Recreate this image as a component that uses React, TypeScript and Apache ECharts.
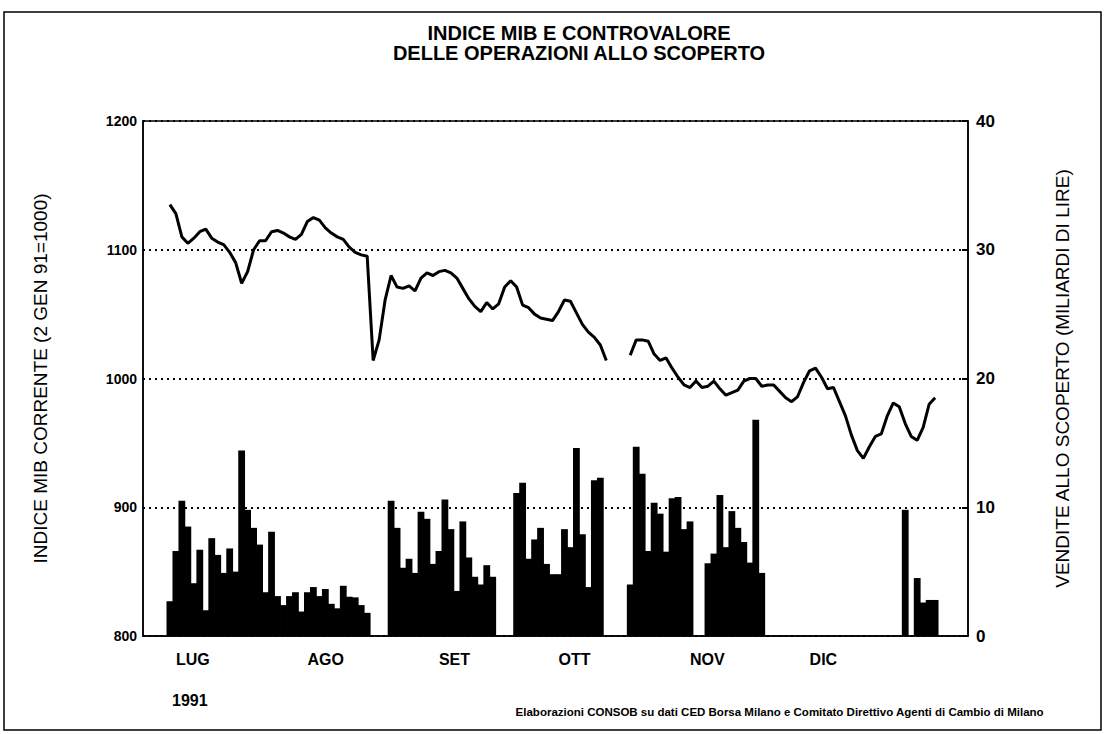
import React, { useEffect, useRef } from "react";
import * as echarts from "echarts";

// Trading-day slots (0..137); month labels placed at the first trading day of each month
const SLOT_COUNT = 138;
const months = ["LUG", "AGO", "SET", "OTT", "NOV", "DIC"];
const monthStartSlot = [5, 27, 49, 69, 91, 111];

// Indice MIB corrente (2 gen 91 = 1000), by slot; null = no data
const mibIndex: (number | null)[] = [
  null, null, null, null,
  1135, 1128, 1110, 1105, 1109, 1114, 1116, 1109, 1106, 1104,
  1098, 1090, 1074, 1083, 1100, 1107, 1107, 1114, 1115, 1113,
  1110, 1108, 1112, 1122, 1125, 1123, 1117, 1113, 1110, 1108,
  1102, 1098, 1096, 1095, 1014, 1030, 1061, 1080, 1071, 1070,
  1072, 1068, 1078, 1082, 1080, 1083, 1084, 1082, 1078, 1070,
  1062, 1056, 1052, 1059, 1054, 1058, 1071, 1076, 1071, 1057,
  1055, 1050, 1047, 1046, 1045, 1052, 1061, 1060, 1051, 1042,
  1036, 1032, 1026, 1014,
  null, null, null,
  1018, 1030, 1030, 1029, 1019, 1014, 1016, 1008, 1001, 995,
  993, 998, 993, 994, 998, 992, 987, 989, 991, 998,
  1000, 1000, 994, 995, 995, 990, 985, 982, 986, 997,
  1006, 1008, 1001, 992, 993, 982, 971, 956, 944, 938,
  947, 955, 957, 971, 981, 978, 965, 955, 952, 962,
  980, 985,
  null, null, null, null, null,
];

// Vendite allo scoperto (miliardi di lire), by slot; null = no data
const shortSales: (number | null)[] = [
  null, null, null, null,
  2.7, 6.6, 10.5, 8.5, 4.1, 6.7, 2.0, 7.6, 6.3, 4.9,
  6.8, 5.0, 14.4, 9.8, 8.4, 7.1, 3.4, 8.1, 3.1, 2.4,
  3.1, 3.4, 1.9, 3.4, 3.8, 3.1, 3.65, 2.5, 2.15, 3.9,
  3.05, 3.0, 2.4, 1.8,
  null, null, null,
  10.5, 8.4, 5.3, 6.0, 4.9, 9.65, 9.1, 5.6, 6.6, 10.6,
  8.3, 3.5, 8.9, 6.1, 4.6, 4.0, 5.5, 4.6,
  null, null, null,
  11.1, 11.9, 6.0, 7.5, 8.4, 5.6, 4.8, 4.8, 8.3, 6.9,
  14.6, 7.9, 3.8, 12.1, 12.3,
  null, null, null, null,
  4.0, 14.7, 12.6, 6.6, 10.35, 9.5, 6.55, 10.7, 10.8, 8.3,
  8.9,
  null, null,
  5.65, 6.4, 10.95, 6.9, 9.7, 8.4, 7.3, 5.7, 16.8, 4.9,
  null, null, null, null, null, null, null, null, null, null,
  null, null, null, null, null, null, null, null, null, null,
  null, null, null,
  9.8, null, 4.5, 2.6, 2.8, 2.8,
  null, null, null, null, null,
];

const leftTicks = [800, 1200, 100];
const rightTicks = [0, 40, 10];

const titleLines = ["INDICE MIB E CONTROVALORE", "DELLE OPERAZIONI ALLO SCOPERTO"];
const leftAxisName = "INDICE MIB CORRENTE (2 GEN 91=1000)";
const rightAxisName = "VENDITE ALLO SCOPERTO (MILIARDI DI LIRE)";
const yearLabel = "1991";
const sourceNote =
  "Elaborazioni CONSOB su dati CED Borsa Milano e Comitato Direttivo Agenti di Cambio di Milano";

const FONT = "'Liberation Sans', Arial, sans-serif";

export default function App() {
  const ref = useRef<HTMLDivElement>(null);

  useEffect(() => {
    if (!ref.current) return;
    const chart = echarts.init(ref.current, null, { renderer: "svg" });
    const slots = Array.from({ length: SLOT_COUNT }, (_, i) => "g" + i);

    chart.setOption({
      animation: false,
      backgroundColor: "#ffffff",
      title: {
        text: titleLines.join("\n"),
        top: 18,
        left: 574,
        textAlign: "center",
        textStyle: {
          fontFamily: FONT,
          fontWeight: "bold",
          fontSize: 20,
          lineHeight: 20,
          color: "#000",
        },
      },
      grid: {
        left: 143,
        right: 138,
        top: 121,
        bottom: 98,
        show: true,
        borderColor: "#000",
        borderWidth: 1.5,
        backgroundColor: "transparent",
      },
      xAxis: {
        type: "category",
        data: slots,
        boundaryGap: true,
        axisLine: { show: true, lineStyle: { color: "#000", width: 1.5 } },
        axisTick: { show: false },
        axisLabel: {
          interval: 0,
          align: "left",
          margin: 15,
          fontFamily: FONT,
          fontWeight: "bold",
          fontSize: 16,
          color: "#000",
          formatter: (_v: string, idx: number) => {
            const m = monthStartSlot.indexOf(idx);
            return m >= 0 ? months[m] : "";
          },
        },
        splitLine: { show: false },
      },
      yAxis: [
        {
          type: "value",
          min: leftTicks[0],
          max: leftTicks[1],
          interval: leftTicks[2],
          position: "left",
          name: leftAxisName,
          nameLocation: "middle",
          nameRotate: 90,
          nameGap: 93,
          nameTextStyle: { fontFamily: FONT, fontSize: 19, color: "#000" },
          axisLine: { show: true, lineStyle: { color: "#000", width: 1.5 } },
          axisTick: { show: false },
          axisLabel: {
            margin: 6,
            fontFamily: FONT,
            fontWeight: "bold",
            fontSize: 14,
            color: "#000",
            formatter: (v: number) => String(v),
          },
          splitLine: {
            show: true,
            lineStyle: { color: "#000", type: [2, 4], width: 2 },
          },
        },
        {
          type: "value",
          min: rightTicks[0],
          max: rightTicks[1],
          interval: rightTicks[2],
          position: "right",
          name: rightAxisName,
          nameLocation: "middle",
          nameRotate: 90,
          nameGap: 85,
          nameTextStyle: { fontFamily: FONT, fontSize: 19, color: "#000" },
          axisLine: { show: true, lineStyle: { color: "#000", width: 1.5 } },
          axisTick: { show: true, inside: true, length: 6, lineStyle: { color: "#000", width: 2 } },
          axisLabel: {
            margin: 8,
            fontFamily: FONT,
            fontWeight: "bold",
            fontSize: 17,
            color: "#000",
            formatter: (v: number) => String(v),
          },
          splitLine: { show: false },
        },
      ],
      series: [
        {
          type: "bar",
          yAxisIndex: 1,
          data: shortSales,
          barWidth: 6.8,
          itemStyle: { color: "#000" },
          z: 2,
        },
        {
          type: "line",
          yAxisIndex: 0,
          data: mibIndex,
          connectNulls: false,
          showSymbol: false,
          symbol: "none",
          lineStyle: { color: "#000", width: 3 },
          z: 3,
        },
      ],
      graphic: [
        {
          type: "rect",
          shape: { x: 4, y: 12, width: 1097, height: 718 },
          style: { fill: "none", stroke: "#000", lineWidth: 1.5 },
          silent: true,
        },
        {
          type: "text",
          left: 172,
          top: 692,
          style: {
            text: yearLabel,
            fontFamily: FONT,
            fontSize: 16,
            fontWeight: "bold",
            fill: "#000",
          },
        },
        {
          type: "text",
          right: 62,
          top: 706,
          style: {
            text: sourceNote,
            fontFamily: FONT,
            fontSize: 11.5,
            fontWeight: "bold",
            fill: "#000",
          },
        },
      ],
    });

    return () => chart.dispose();
  }, []);

  return (
    <div
      ref={ref}
      style={{ position: "absolute", left: 0, top: 0, width: 1106, height: 734 }}
    />
  );
}
